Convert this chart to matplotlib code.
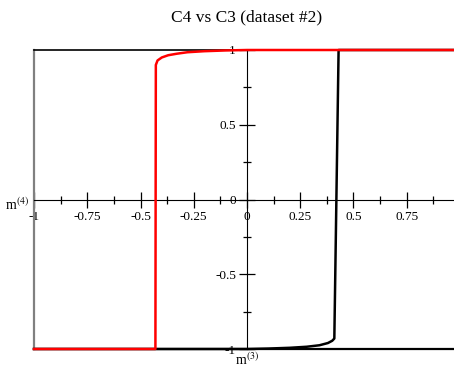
import matplotlib
matplotlib.use('Agg')
import matplotlib.pyplot as plt
from matplotlib.ticker import MultipleLocator, FixedLocator

plt.rcParams['font.family'] = ['Liberation Serif', 'DejaVu Serif']
plt.rcParams['mathtext.fontset'] = 'stix'

# branch coming up (red) and branch going down (black)
red_x = [-1.0, -0.43, -0.428, -0.42, -0.40, -0.37, -0.33, -0.28, -0.2, -0.1, 0.0, 1.0]
red_y = [-1.0, -1.0, 0.90, 0.93, 0.95, 0.965, 0.975, 0.985, 0.992, 0.997, 1.0, 1.0]
black_x = [-1.0, 0.0, 0.1, 0.2, 0.28, 0.34, 0.38, 0.40, 0.41, 0.43, 1.0]
black_y = [-1.0, -1.0, -0.997, -0.992, -0.985, -0.975, -0.96, -0.945, -0.93, 1.0, 1.0]

x_ticks = [-1, -0.75, -0.5, -0.25, 0, 0.25, 0.5, 0.75]
x_labels = ['-1', '-0.75', '-0.5', '-0.25', '0', '0.25', '0.5', '0.75']
y_ticks = [-1, -0.5, 0, 0.5, 1]
y_labels = ['-1', '-0.5', '0', '0.5', '1']

fig = plt.figure(figsize=(4.54, 3.69), dpi=100)
ax = fig.add_axes([34 / 454, 20 / 369, 426 / 454, 299 / 369])

ax.plot(black_x, black_y, color='black', lw=1.8, zorder=3, clip_on=False)
ax.plot(red_x, red_y, color='red', lw=1.8, zorder=4, clip_on=False)

ax.set_xlim(-1, 1)
ax.set_ylim(-1, 1)

# axes crossing at zero, gnuplot style
ax.spines['left'].set_position(('data', 0))
ax.spines['bottom'].set_position(('data', 0))
ax.spines['right'].set_visible(False)
ax.spines['top'].set_linewidth(1.2)
ax.axhline(-1, color='black', lw=1.6, zorder=2, clip_on=False)
ax.axvline(-1, color='gray', lw=1.6, zorder=2, clip_on=False)

ax.xaxis.set_major_locator(FixedLocator(x_ticks))
ax.set_xticklabels(x_labels)
ax.xaxis.set_minor_locator(MultipleLocator(0.125))
ax.yaxis.set_major_locator(FixedLocator(y_ticks))
ax.set_yticklabels(y_labels)
ax.yaxis.set_minor_locator(MultipleLocator(0.25))
ax.tick_params(which='major', direction='inout', length=12, width=0.9, labelsize=9.5, pad=2)
ax.tick_params(which='minor', direction='inout', length=6, width=0.9)

fig.text(247 / 454, 1 - 17 / 369, 'C4 vs C3 (dataset #2)', ha='center', va='center', fontsize=12.5)
fig.text(17 / 454, 1 - 205 / 369, r'm$^{(4)}$', ha='center', va='center', fontsize=10)
fig.text(247 / 454, 1 - 360 / 369, r'm$^{(3)}$', ha='center', va='center', fontsize=10)

fig.savefig('out.png', dpi=100)
